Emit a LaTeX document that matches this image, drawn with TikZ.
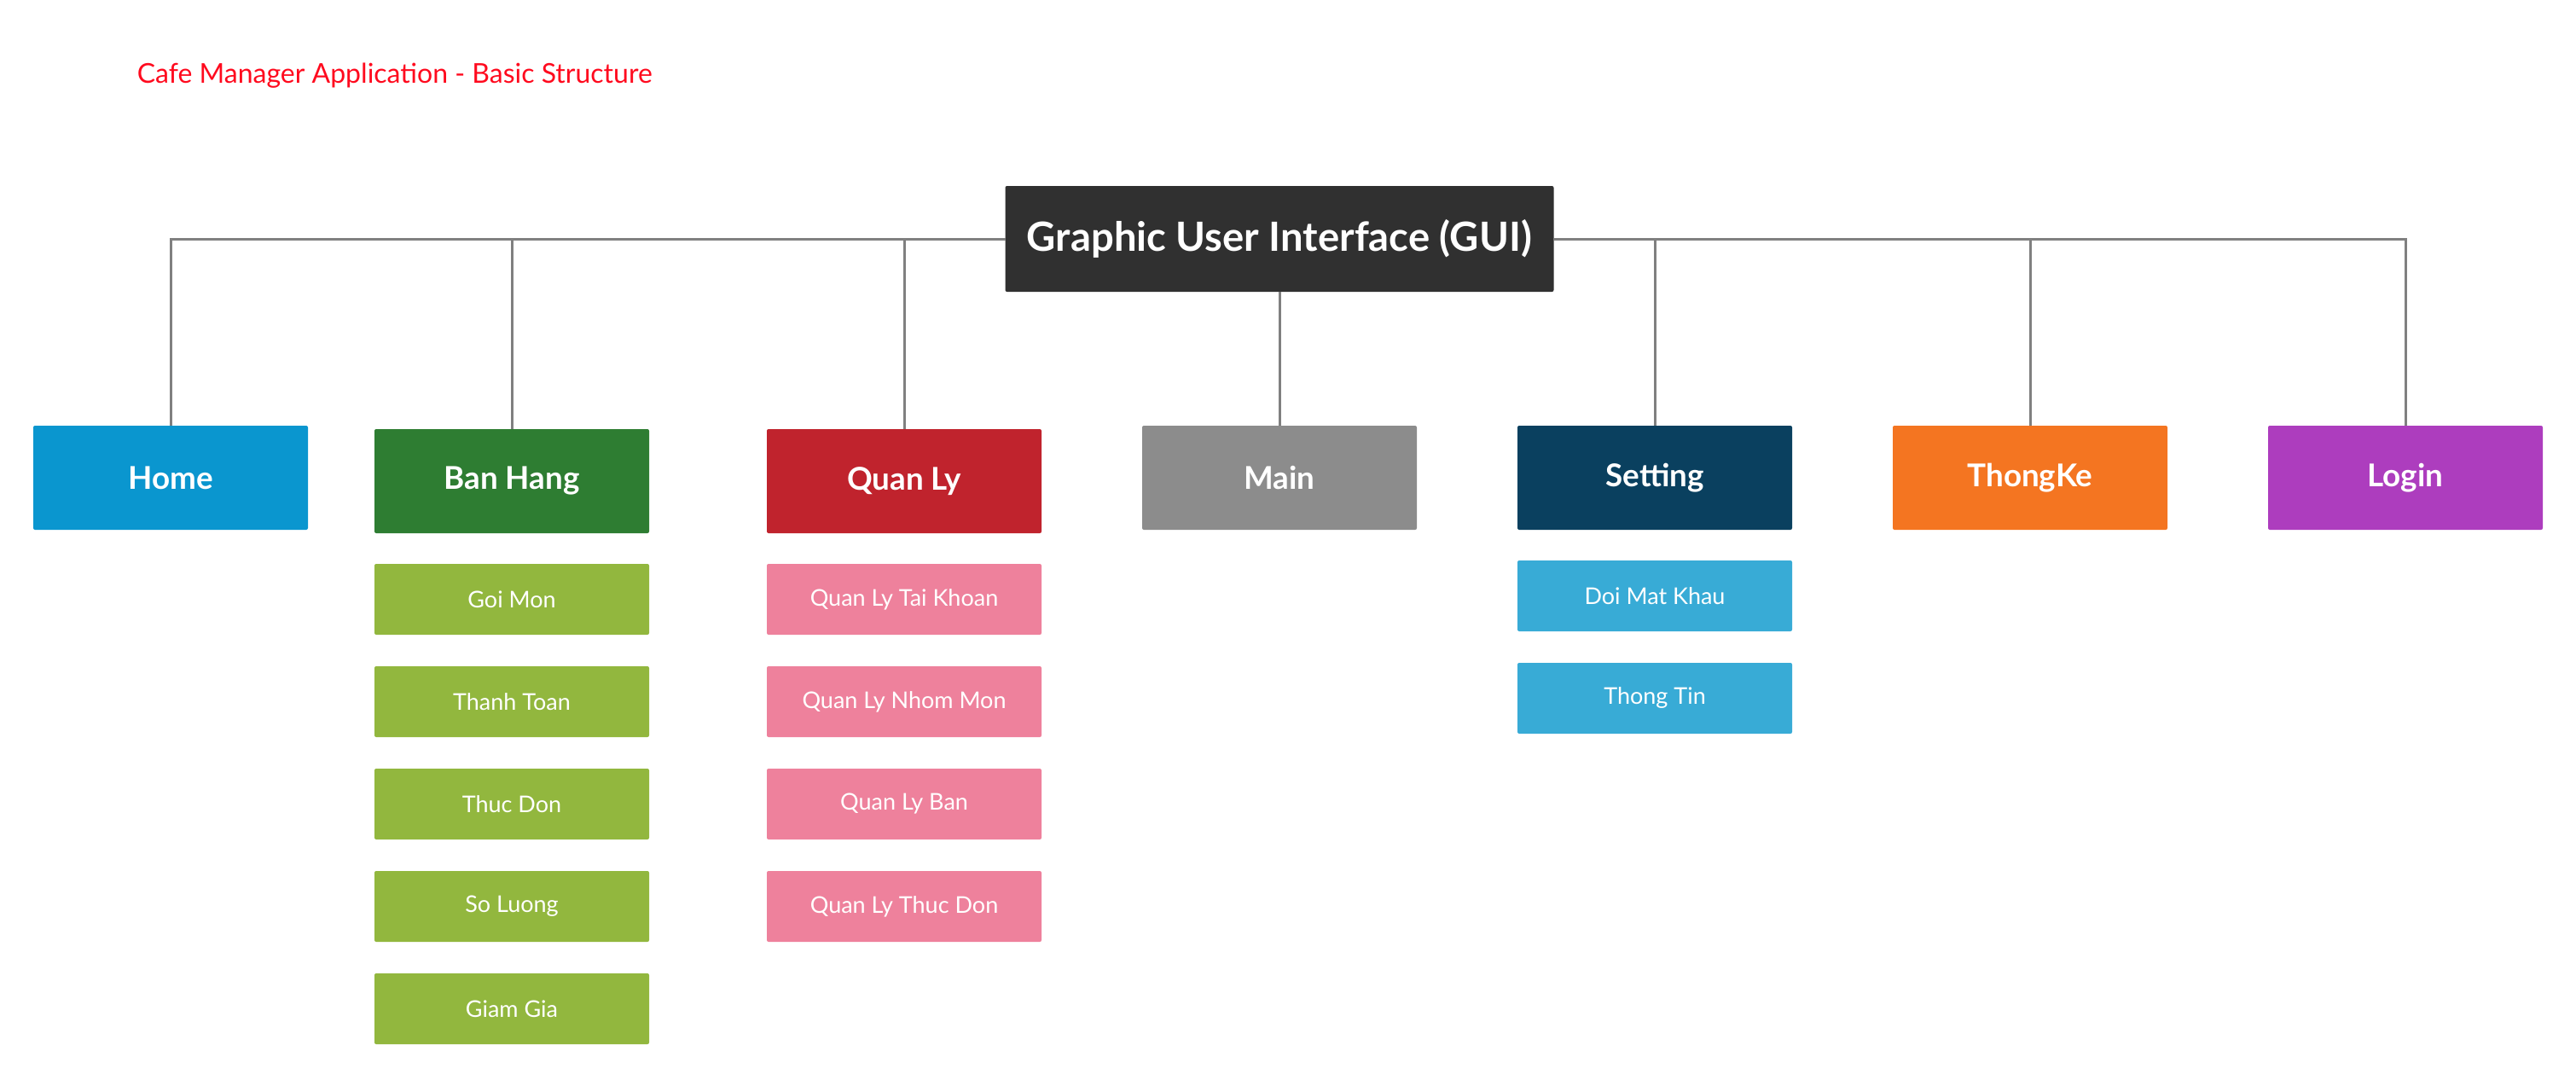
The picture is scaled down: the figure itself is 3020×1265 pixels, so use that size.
\documentclass[tikz,border=0pt]{standalone}
\usepackage{fontspec}
\setmainfont{Lato}
\usetikzlibrary{positioning}

\definecolor{titlered}{HTML}{FF0A1E}
\definecolor{rootgray}{HTML}{303030}
\definecolor{linegray}{HTML}{808080}
\definecolor{homeblue}{HTML}{0A96CF}
\definecolor{banhanggreen}{HTML}{2E7D32}
\definecolor{quanlyred}{HTML}{C0232D}
\definecolor{maingray}{HTML}{8C8C8C}
\definecolor{settingnavy}{HTML}{0A405F}
\definecolor{thongkeorange}{HTML}{F47521}
\definecolor{loginpurple}{HTML}{AD3DBE}
\definecolor{subgreen}{HTML}{92B73E}
\definecolor{subpink}{HTML}{EE819C}
\definecolor{subblue}{HTML}{38ABD6}

\begin{document}
\begin{tikzpicture}[x=0.25pt, y=-0.25pt,
  topbox/.style={fill=#1, text=white, font=\bfseries\fontsize{9.2}{11}\selectfont,
    minimum width=80.5pt, minimum height=30.5pt, inner sep=0pt, outer sep=0pt,
    rounded corners=0.5pt},
  subbox/.style={fill=#1, text=white, font=\fontsize{6.75}{8}\selectfont,
    minimum width=80.5pt, minimum height=20.75pt, inner sep=0pt, outer sep=0pt,
    rounded corners=0.5pt},
  link/.style={draw=linegray, line width=0.75pt}]

  \useasboundingbox (0,0) rectangle (3020,1265);

  % Title
  \node[anchor=base west, inner sep=0pt, text=titlered, font=\fontsize{8}{10}\selectfont]
    (title) at (160,97) {Cafe Manager Application - Basic Structure};

  % Root
  \node[fill=rootgray, text=white, font=\bfseries\fontsize{11.8}{14}\selectfont,
    minimum width=160.75pt, minimum height=31pt, inner sep=0pt, outer sep=0pt,
    rounded corners=0.5pt]
    (gui) at (1500,280) {Graphic User Interface (GUI)};

  % Modules
  \node[topbox=homeblue] (home) at (200,560) {Home};
  \node[topbox=banhanggreen] (banhang) at (600,564) {Ban Hang};
  \node[topbox=quanlyred] (quanly) at (1060,564) {Quan Ly};
  \node[topbox=maingray] (main) at (1500,560) {Main};
  \node[topbox=settingnavy] (setting) at (1940,560) {Setting};
  \node[topbox=thongkeorange] (thongke) at (2380,560) {ThongKe};
  \node[topbox=loginpurple] (login) at (2820,560) {Login};

  % Ban Hang items
  \node[subbox=subgreen, below=9pt of banhang] (goimon) {Goi Mon};
  \node[subbox=subgreen, below=9.25pt of goimon] (thanhtoan) {Thanh Toan};
  \node[subbox=subgreen, below=9.25pt of thanhtoan] (thucdon) {Thuc Don};
  \node[subbox=subgreen, below=9.25pt of thucdon] (soluong) {So Luong};
  \node[subbox=subgreen, below=9.25pt of soluong] (giamgia) {Giam Gia};

  % Quan Ly items
  \node[subbox=subpink, below=9pt of quanly] (qltaikhoan) {Quan Ly Tai Khoan};
  \node[subbox=subpink, below=9.25pt of qltaikhoan] (qlnhommon) {Quan Ly Nhom Mon};
  \node[subbox=subpink, below=9.25pt of qlnhommon] (qlban) {Quan Ly Ban};
  \node[subbox=subpink, below=9.25pt of qlban] (qlthucdon) {Quan Ly Thuc Don};

  % Setting items
  \node[subbox=subblue, below=9pt of setting] (doimatkhau) {Doi Mat Khau};
  \node[subbox=subblue, below=9.25pt of doimatkhau] (thongtin) {Thong Tin};

  % Links
  \draw[link] (home.north) |- (gui.west);
  \draw[link] (banhang.north) |- (gui.west);
  \draw[link] (quanly.north) |- (gui.west);
  \draw[link] (gui.south) -- (main.north);
  \draw[link] (setting.north) |- (gui.east);
  \draw[link] (thongke.north) |- (gui.east);
  \draw[link] (login.north) |- (gui.east);

\end{tikzpicture}
\end{document}
